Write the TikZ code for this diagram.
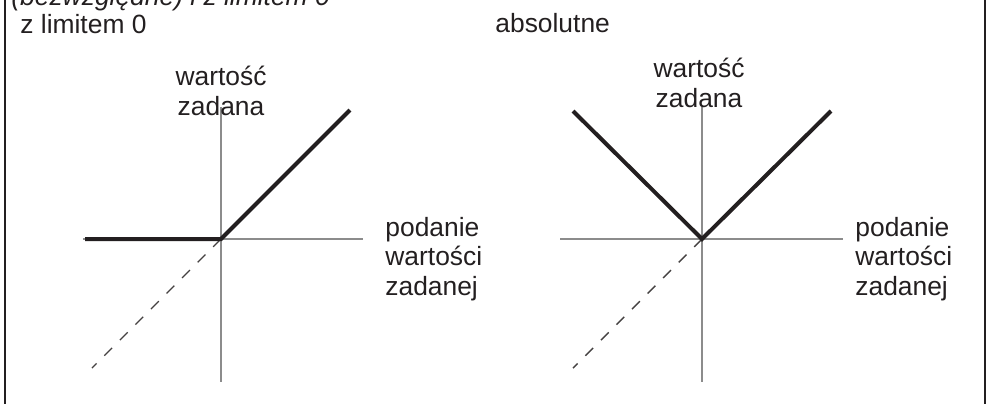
\documentclass[tikz,border=0pt]{standalone}
\usepackage{fontspec}
\setmainfont{Liberation Sans}
\usetikzlibrary{positioning}
\definecolor{ink}{HTML}{231F20}
\definecolor{axisgray}{HTML}{8C8C8C}

\begin{document}
\begin{tikzpicture}[
    x=0.5pt, y=-0.5pt,
    every node/.style={inner sep=0pt, text=ink, font=\fontsize{13.2}{14.75}\selectfont},
    axis/.style={draw=axisgray, line width=0.75pt},
    curve/.style={draw=ink, line width=2pt, line join=miter},
    ref/.style={draw=ink!85, line width=0.7pt, dash pattern=on 5.5pt off 5.5pt},
    frame/.style={draw=ink, line width=1.3pt},
    lbl/.style={align=left, anchor=base west},
    ttl/.style={align=center, anchor=base}
  ]
    \useasboundingbox (0,0) rectangle (992,403);
    % frame sides
    \draw[frame] (5,-5) -- (5,410);
    \draw[frame] (985,-5) -- (985,410);
    % captions
    \node[anchor=base west, font=\itshape\fontsize{13.2}{14.75}\selectfont] (head) at (11,5) {(bezwzględne) i z limitem 0};
    \node[anchor=base west] (limcap) at (20,33) {z limitem 0};
    \node[anchor=base west] (abscap) at (495,32) {absolutne};

    % left chart: with limit 0
    \coordinate (oL) at (221,239);
    \draw[axis] (221,107) -- (221,382);
    \draw[axis] (83,239) -- (363,239);
    \draw[ref] (oL) -- (92,368);
    \draw[curve] (85,239) -- (oL) -- (350,110);
    \node[ttl] (ytitleL) at (221,115) {wartość\\zadana};
    \node[lbl] (xtitleL) at (385,295) {podanie\\wartości\\zadanej};

    % right chart: absolute
    \coordinate (oR) at (702,239);
    \draw[axis] (702,107) -- (702,382);
    \draw[axis] (560,239) -- (843,239);
    \draw[ref] (oR) -- (573,368);
    \draw[curve] (573,111) -- (oR) -- (831,111);
    \node[ttl] (ytitleR) at (699,107) {wartość\\zadana};
    \node[lbl] (xtitleR) at (855,295) {podanie\\wartości\\zadanej};
  \end{tikzpicture}
\end{document}
